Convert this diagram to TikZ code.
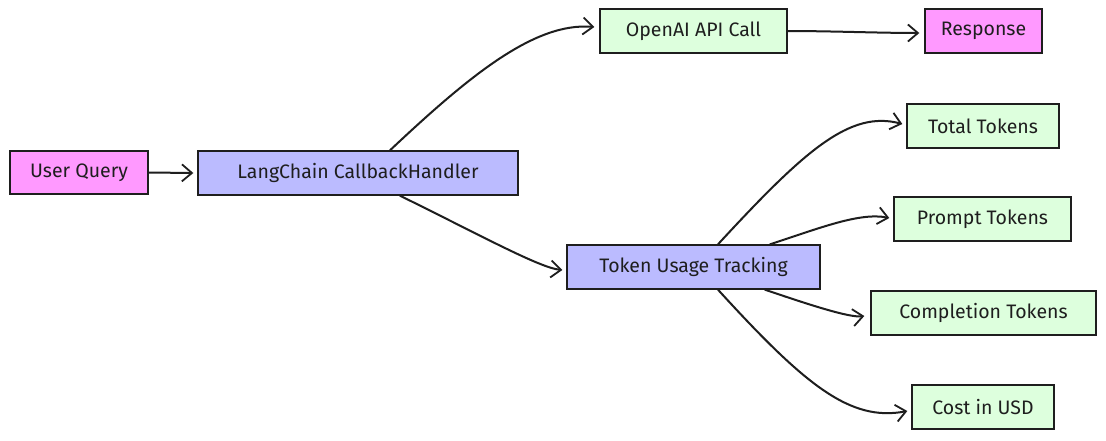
\documentclass[tikz,border=0pt]{standalone}
\usepackage{fontspec}
\setmainfont{Fira Sans}
\usetikzlibrary{arrows.meta}
\definecolor{pinkc}{HTML}{FF99FF}
\definecolor{bluec}{HTML}{BBBBFF}
\definecolor{greenc}{HTML}{DDFFDD}
\definecolor{inkc}{HTML}{1E1E1E}
\tikzset{
  box/.style={draw=inkc, line width=1.4pt, inner sep=0pt, align=center,
    font=\fontsize{19.5}{22}\selectfont, text=inkc},
  conn/.style={draw=inkc, line width=2pt, line cap=round,
    -{Straight Barb[length=10pt,width=17pt,line width=1.8pt]}},
}
\begin{document}
\begin{tikzpicture}[x=1pt,y=-1pt]
\useasboundingbox (0,0) rectangle (1106,440);
\fill[white] (0,0) rectangle (1106,440);

\node[box, fill=pinkc, minimum width=138pt, minimum height=43pt] (uq) at (79,172.5) {User Query};
\node[box, fill=bluec, minimum width=320pt, minimum height=44pt] (lc) at (358,173) {LangChain CallbackHandler};
\node[box, fill=greenc, minimum width=187pt, minimum height=44pt] (oa) at (693.5,31) {OpenAI API Call};
\node[box, fill=pinkc, minimum width=117pt, minimum height=44pt] (re) at (983.5,31) {Response};
\node[box, fill=bluec, minimum width=253pt, minimum height=44pt] (tu) at (693.5,267) {Token Usage Tracking};
\node[box, fill=greenc, minimum width=152pt, minimum height=44pt] (tt) at (983,126) {Total Tokens};
\node[box, fill=greenc, minimum width=177pt, minimum height=44pt] (pt) at (982.5,219) {Prompt Tokens};
\node[box, fill=greenc, minimum width=225pt, minimum height=44pt] (ct) at (983.5,313) {Completion Tokens};
\node[box, fill=greenc, minimum width=142pt, minimum height=44pt] (cu) at (983,407) {Cost in USD};

\draw[conn] (uq.east) -- ([xshift=-4pt]lc.west);
\draw[conn] ([xshift=32pt]lc.north) .. controls (470,75) and (535,22) .. ([xshift=-5pt,yshift=4pt]oa.west);
\draw[conn] (oa.east) .. controls (830,31) and (880,33) .. ([xshift=-5pt,yshift=-2pt]re.west);
\draw[conn] ([xshift=42pt]lc.south) .. controls (480,235) and (540,268) .. ([xshift=-4pt,yshift=-3pt]tu.west);
\draw[conn] ([xshift=24.5pt]tu.north) .. controls (805,150) and (850,110) .. ([xshift=-4pt,yshift=2pt]tt.west);
\draw[conn] ([xshift=76.5pt]tu.north) .. controls (820,228) and (860,212) .. ([xshift=-4pt,yshift=1pt]pt.west);
\draw[conn] ([xshift=71.5pt]tu.south) .. controls (810,305) and (850,318) .. ([xshift=-6pt,yshift=-3pt]ct.west);
\draw[conn] ([xshift=24.5pt]tu.south) .. controls (805,385) and (850,422) .. ([xshift=-4pt,yshift=-4pt]cu.west);
\end{tikzpicture}
\end{document}
